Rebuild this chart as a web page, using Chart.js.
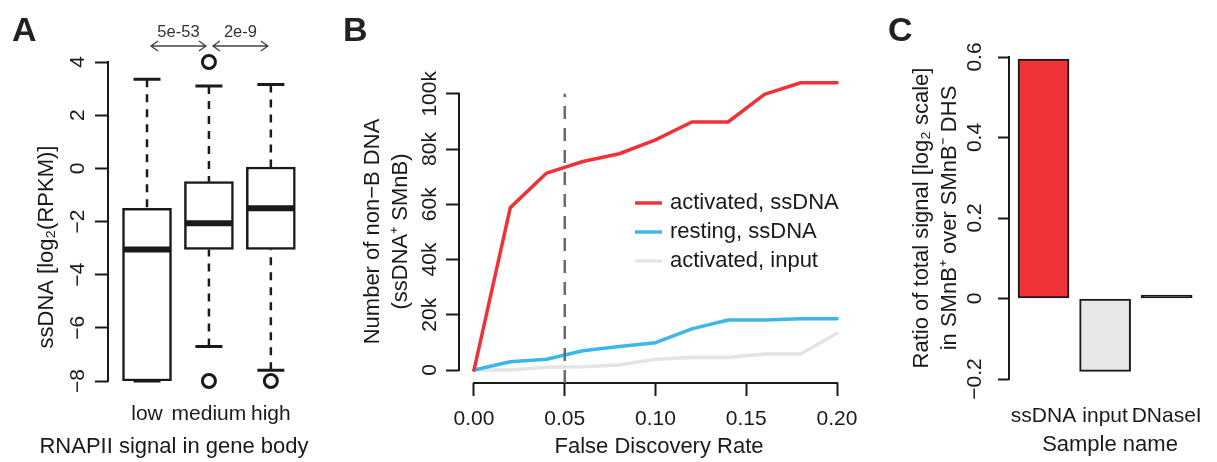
<!DOCTYPE html>
<html>
<head>
<meta charset="utf-8">
<title>ssDNA / non-B DNA panels</title>
<script src="https://cdn.jsdelivr.net/npm/chart.js@4.4.1/dist/chart.umd.min.js"></script>
<style>
  html, body { margin: 0; padding: 0; background: #fff; overflow: hidden; }
  body { width: 1217px; height: 462px; position: relative; }
  canvas { position: absolute; top: 0; }
  #panelA { left: 0; }
  #panelB { left: 320px; }
  #panelC { left: 880px; }
</style>
</head>
<body>
<canvas id="panelA" width="330" height="470"></canvas>
<canvas id="panelB" width="580" height="470"></canvas>
<canvas id="panelC" width="360" height="470"></canvas>
<script>
/* ---- Panel A: ssDNA signal by RNAPII level (boxplot) ---- */
const groups = ['low', 'medium', 'high'];
const boxQ1 = [-8, -3.05, -3.05];
const boxMedian = [-3.05, -2.07, -1.5];
const boxQ3 = [-1.5, -0.5, 0.05];
const whiskerLow = [-8, -6.7, -7.6];
const whiskerHigh = [3.35, 3.1, 3.15];
const outlierGroup = [2, 2, 3];
const outlierValue = [4, -8, -8];
const pValueLabels = ['5e-53', '2e-9'];
const pValuePairs = [[1, 2], [2, 3]];
const ticksA = [-8, -6, -4, -2, 0, 2, 4];

/* ---- Panel B: non-B DNA count vs FDR ---- */
const fdr = [0, 0.02, 0.04, 0.06, 0.08, 0.10, 0.12, 0.14, 0.16, 0.18, 0.20];
const activatedSsDNA = [0, 58800, 71300, 75500, 78300, 83300, 89800, 89800, 99800, 104000, 104000];
const restingSsDNA = [0, 3000, 3900, 7000, 8500, 9900, 14900, 18100, 18100, 18600, 18600];
const activatedInput = [0, 0, 1000, 1200, 1800, 3900, 4500, 4500, 5800, 5800, 13300];
const fdrCutoff = 0.05;
const ticksBx = [0, 0.05, 0.10, 0.15, 0.20];
const ticksBy = [0, 20000, 40000, 60000, 80000, 100000];

/* ---- Panel C: signal ratio per sample ---- */
const samples = ['ssDNA', 'input', 'DNaseI'];
const signalRatio = [0.595, -0.181, 0.003];
const ticksC = [-0.2, 0, 0.2, 0.4, 0.6];

const INK = '#1a1a1a';
const FONT = "'Liberation Sans', Arial, Helvetica, sans-serif";
const LABEL_SIZE = 22;

Chart.defaults.font.family = FONT;
Chart.defaults.font.size = 21;
Chart.defaults.color = INK;
Chart.defaults.animation = false;
Chart.defaults.events = [];
Chart.defaults.plugins.legend.display = false;
Chart.defaults.plugins.tooltip.enabled = false;

const neg = s => s.replace('-', '\u2212');

// R draws its axis line only between the first and last tick
const rAxisLines = {
    id: 'rAxisLines',
    beforeDatasetsDraw(chart, args, opts) {
        const { ctx, chartArea } = chart;
        ctx.save();
        ctx.strokeStyle = INK;
        ctx.lineWidth = 2;
        ctx.lineCap = 'square';
        (opts.axes || []).forEach(id => {
            const s = chart.scales[id];
            const a = s.getPixelForValue(s.ticks[0].value);
            const b = s.getPixelForValue(s.ticks[s.ticks.length - 1].value);
            ctx.beginPath();
            if (s.isHorizontal()) { ctx.moveTo(a, chartArea.bottom); ctx.lineTo(b, chartArea.bottom); }
            else { ctx.moveTo(chartArea.left, a); ctx.lineTo(chartArea.left, b); }
            ctx.stroke();
        });
        ctx.restore();
    }
};

// whiskers, caps and medians on top of the floating-bar boxes
const boxWhiskers = {
    id: 'boxWhiskers',
    afterDatasetsDraw(chart) {
        const { ctx, scales: { x, y } } = chart;
        ctx.save();
        ctx.strokeStyle = INK;
        groups.forEach((g, i) => {
            const cx = x.getPixelForValue(i + 1);
            ctx.lineWidth = 2.5;
            ctx.setLineDash([8, 7]);
            ctx.beginPath();
            ctx.moveTo(cx, y.getPixelForValue(whiskerHigh[i]));
            ctx.lineTo(cx, y.getPixelForValue(boxQ3[i]));
            if (whiskerLow[i] < boxQ1[i]) {
                ctx.moveTo(cx, y.getPixelForValue(whiskerLow[i]));
                ctx.lineTo(cx, y.getPixelForValue(boxQ1[i]));
            }
            ctx.stroke();
            ctx.setLineDash([]);
            ctx.lineWidth = 3;
            ctx.beginPath();
            [whiskerHigh[i], whiskerLow[i]].forEach(v => {
                const py = y.getPixelForValue(v);
                ctx.moveTo(cx - 13.5, py); ctx.lineTo(cx + 13.5, py);
            });
            ctx.stroke();
            ctx.lineWidth = 6;
            ctx.beginPath();
            const my = y.getPixelForValue(boxMedian[i]);
            ctx.moveTo(cx - 24, my); ctx.lineTo(cx + 24, my);
            ctx.stroke();
        });
        ctx.restore();
    }
};

// p-value arrows above panel A
const pValueArrows = {
    id: 'pValueArrows',
    afterDraw(chart) {
        const { ctx, chartArea, scales: { x } } = chart;
        const ya = chartArea.top - 16, yt = chartArea.top - 30;
        ctx.save();
        ctx.strokeStyle = '#444';
        ctx.fillStyle = '#333';
        ctx.lineWidth = 1.4;
        ctx.font = '16.5px ' + FONT;
        ctx.textAlign = 'center';
        ctx.textBaseline = 'middle';
        pValuePairs.forEach(([a, b], i) => {
            const x1 = x.getPixelForValue(a) + 4, x2 = x.getPixelForValue(b) - 3;
            ctx.beginPath();
            ctx.moveTo(x1, ya); ctx.lineTo(x2, ya);
            ctx.moveTo(x1 + 7, ya - 5); ctx.lineTo(x1, ya); ctx.lineTo(x1 + 7, ya + 5);
            ctx.moveTo(x2 - 7, ya - 5); ctx.lineTo(x2, ya); ctx.lineTo(x2 - 7, ya + 5);
            ctx.stroke();
            ctx.fillText(pValueLabels[i], (x1 + x2) / 2, yt);
        });
        ctx.restore();
    }
};

// axis captions of panel A sit off-centre in the original
const axisCaptions = {
    id: 'axisCaptions',
    afterDraw(chart, args, opts) {
        const ctx = chart.ctx;
        ctx.save();
        ctx.fillStyle = INK;
        ctx.font = LABEL_SIZE + 'px ' + FONT;
        ctx.textAlign = 'center';
        ctx.textBaseline = 'middle';
        (opts.items || []).forEach(it => {
            ctx.save();
            ctx.translate(it.x, it.y);
            ctx.rotate(it.rotation || 0);
            ctx.fillText(it.text, 0, 0);
            ctx.restore();
        });
        ctx.restore();
    }
};

// legend inside the plot of panel B
const insetLegend = {
    id: 'insetLegend',
    afterDatasetsDraw(chart, args, o) {
        const { ctx, chartArea } = chart;
        const x0 = chartArea.left + o.left;
        let y = chartArea.top + o.top;
        ctx.save();
        ctx.font = LABEL_SIZE + 'px ' + FONT;
        ctx.textBaseline = 'middle';
        ctx.textAlign = 'left';
        chart.data.datasets.filter(d => d.label).forEach(d => {
            ctx.strokeStyle = d.borderColor;
            ctx.lineWidth = d.borderWidth;
            ctx.beginPath();
            ctx.moveTo(x0, y); ctx.lineTo(x0 + o.lineLength, y);
            ctx.stroke();
            ctx.fillStyle = INK;
            ctx.fillText(d.label, x0 + o.lineLength + o.gap, y);
            y += o.rowHeight;
        });
        ctx.restore();
    }
};

const panelTitle = (text, bottom) => ({
    display: true, text, align: 'start', color: '#222',
    font: { size: 34, weight: 'bold' },
    padding: { top: 11.6, bottom }
});

const yAxisBase = (tickLength, padding) => ({
    bounds: 'data',
    border: { display: false },
    grid: { drawOnChartArea: false, tickLength, tickWidth: 2, tickColor: INK },
    ticks: { minRotation: 90, maxRotation: 90, crossAlign: 'center', padding, autoSkip: false }
});

/* ---------- Panel A ---------- */
new Chart(document.getElementById('panelA'), {
    type: 'bar',
    data: {
        datasets: [
            {
                data: groups.map((g, i) => ({ x: i + 1, y: [boxQ1[i], boxQ3[i]] })),
                backgroundColor: '#fff', borderColor: INK, borderWidth: 2.5,
                borderSkipped: false, barThickness: 49
            },
            {
                type: 'scatter',
                data: outlierGroup.map((g, i) => ({ x: g, y: outlierValue[i] })),
                pointRadius: 6.5, pointBorderWidth: 3,
                pointBackgroundColor: 'rgba(0,0,0,0)', pointBorderColor: INK, clip: false
            }
        ]
    },
    options: {
        responsive: false, devicePixelRatio: 1,
        layout: { padding: { left: 12, right: 22, top: 0, bottom: 29 } },
        plugins: {
            title: panelTitle('A', 9.6),
            rAxisLines: { axes: ['y'] },
            axisCaptions: {
                items: [
                    { text: 'ssDNA [log\u2082(RPKM)]', x: 47, y: 247, rotation: -Math.PI / 2 },
                    { text: 'RNAPII signal in gene body', x: 174, y: 447 }
                ]
            }
        },
        scales: {
            x: {
                type: 'linear', min: 0.37, max: 3.6, offset: false, bounds: 'data',
                afterBuildTicks: s => { s.ticks = groups.map((g, i) => ({ value: i + 1 })); },
                afterFit: s => { s.height = 60; },
                border: { display: false },
                grid: { display: false, drawTicks: false },
                ticks: { padding: 21, autoSkip: false, minRotation: 0, maxRotation: 0, callback: v => groups[v - 1] }
            },
            y: Object.assign(yAxisBase(13, 5), {
                min: -8, max: 4,
                afterBuildTicks: s => { s.ticks = ticksA.map(v => ({ value: v })); },
                afterFit: s => { s.width = 96; }
            })
        }
    },
    plugins: [rAxisLines, boxWhiskers, pValueArrows, axisCaptions]
});
Chart.getChart('panelA').options.scales.y.ticks.callback = v => neg(String(v));
Chart.getChart('panelA').update();

/* ---------- Panel B ---------- */
const yMinB = -4700;
const series = vals => fdr.map((x, i) => ({ x, y: vals[i] }));
const lineStyle = { pointRadius: 0, tension: 0, borderWidth: 3.5, borderCapStyle: 'round', borderJoinStyle: 'round', clip: false };

new Chart(document.getElementById('panelB'), {
    type: 'line',
    data: {
        datasets: [
            {
                data: [{ x: fdrCutoff, y: yMinB }, { x: fdrCutoff, y: ticksBy[ticksBy.length - 1] }],
                borderColor: '#6a6a6a', borderWidth: 2.5, borderDash: [13, 9], pointRadius: 0
            },
            Object.assign({ label: 'activated, ssDNA', data: series(activatedSsDNA), borderColor: '#EE3338' }, lineStyle),
            Object.assign({ label: 'resting, ssDNA', data: series(restingSsDNA), borderColor: '#3DB7E9' }, lineStyle),
            Object.assign({ label: 'activated, input', data: series(activatedInput), borderColor: '#E4E4E4' }, lineStyle)
        ]
    },
    options: {
        responsive: false, devicePixelRatio: 1,
        layout: { padding: { left: 23, right: 41, top: 0, bottom: 9.8 } },
        plugins: {
            title: panelTitle('B', 27.6),
            rAxisLines: { axes: ['x', 'y'] },
            insetLegend: { left: 176, top: 123, lineLength: 27, gap: 8, rowHeight: 29 }
        },
        scales: {
            x: {
                type: 'linear', min: -0.00826, max: 0.2121, bounds: 'data',
                afterBuildTicks: s => { s.ticks = ticksBx.map(v => ({ value: v })); },
                afterFit: s => { s.height = 77.2; },
                border: { display: false },
                grid: { drawOnChartArea: false, tickLength: 13, tickWidth: 2, tickColor: INK },
                ticks: { padding: 10.7, autoSkip: false, minRotation: 0, maxRotation: 0, callback: v => v.toFixed(2) },
                title: { display: true, text: 'False Discovery Rate', font: { size: LABEL_SIZE }, padding: { top: 0, bottom: 0 } }
            },
            y: Object.assign(yAxisBase(13, -6.8), {
                min: yMinB, max: 105000,
                afterBuildTicks: s => { s.ticks = ticksBy.map(v => ({ value: v })); },
                afterFit: s => { s.width = 116; },
                title: {
                    display: true,
                    text: ['Number of non\u2212B DNA', '(ssDNA\u207A SMnB)'],
                    font: { size: LABEL_SIZE, lineHeight: 1.29 },
                    padding: { top: 15.4, bottom: 0 }
                }
            })
        }
    },
    plugins: [rAxisLines, insetLegend]
});
Chart.getChart('panelB').options.scales.y.ticks.callback = v => v === 0 ? '0' : (v / 1000) + 'k';
Chart.getChart('panelB').update();

/* ---------- Panel C ---------- */
new Chart(document.getElementById('panelC'), {
    type: 'bar',
    data: {
        datasets: [{
            data: samples.map((s, i) => ({ x: i + 1, y: signalRatio[i] })),
            backgroundColor: ['#EE3438', '#E6E7E8', INK],
            borderColor: INK, borderWidth: 2, borderSkipped: false,
            barThickness: 51, minBarLength: 3.5
        }]
    },
    options: {
        responsive: false, devicePixelRatio: 1,
        layout: { padding: { left: 8, right: 29, top: 0, bottom: 11.4 } },
        plugins: {
            title: panelTitle('C', 4.6),
            rAxisLines: { axes: ['y'] }
        },
        scales: {
            x: {
                type: 'linear', min: 0.439, max: 3.72, offset: false, bounds: 'data',
                afterBuildTicks: s => { s.ticks = samples.map((g, i) => ({ value: i + 1 })); },
                afterFit: s => { s.height = 79.6; },
                border: { display: false },
                grid: { display: false, drawTicks: false },
                ticks: { padding: 24.4, autoSkip: false, minRotation: 0, maxRotation: 0, callback: v => samples[v - 1] },
                title: { display: true, text: 'Sample name', font: { size: LABEL_SIZE }, padding: { top: 0, bottom: 0 } }
            },
            y: Object.assign(yAxisBase(11, 2.3), {
                min: -0.2, max: 0.6,
                afterBuildTicks: s => { s.ticks = ticksC.map(v => ({ value: v })); },
                afterFit: s => { s.width = 121; },
                title: {
                    display: true,
                    text: ['Ratio of total signal [log\u2082 scale]', 'in SMnB\u207A over SMnB\u207B DHS'],
                    font: { size: LABEL_SIZE, lineHeight: 1.27 },
                    padding: { top: 20.4, bottom: 0 }
                }
            })
        }
    },
    plugins: [rAxisLines]
});
Chart.getChart('panelC').options.scales.y.ticks.callback = v => v === 0 ? '0' : neg(v.toFixed(1));
Chart.getChart('panelC').update();
</script>
</body>
</html>
